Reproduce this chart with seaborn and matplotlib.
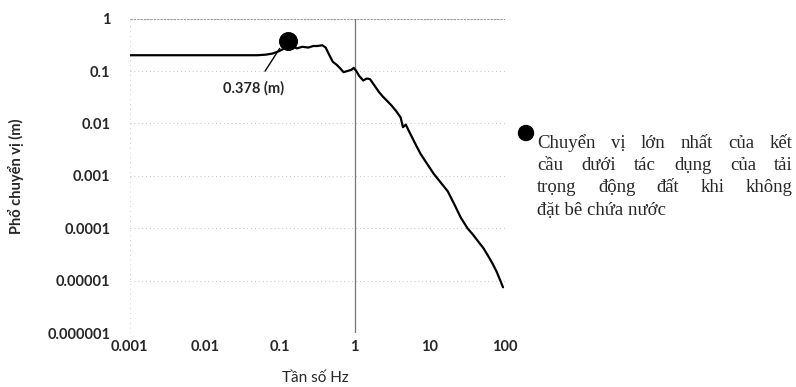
import matplotlib
matplotlib.use("Agg")
import matplotlib.pyplot as plt
import pandas as pd
import seaborn as sns

# Pho chuyen vi - du lieu doc tu hinh
freq_hz = [0.001, 0.003, 0.01, 0.03, 0.05, 0.065, 0.08, 0.095, 0.11, 0.128,
           0.15, 0.17, 0.2, 0.24, 0.28, 0.32, 0.37, 0.41, 0.46, 0.51,
           0.58, 0.65, 0.71, 0.8, 0.9, 0.97, 1.05, 1.15, 1.3, 1.45,
           1.6, 1.8, 2.1, 2.4, 2.7, 3.1, 3.6, 4.1, 4.4, 4.8,
           5.2, 5.8, 6.6, 7.6, 9.0, 11.3, 14.0, 17.4, 21.0, 26.0,
           32.0, 38.0, 44.0, 52.0, 60.0, 68.0, 78.0, 89.0, 95.0]
displacement_m = [0.2, 0.2, 0.2, 0.2, 0.2, 0.205, 0.215, 0.235, 0.26, 0.3,
                  0.29, 0.27, 0.29, 0.28, 0.3, 0.3, 0.31, 0.28, 0.2, 0.15,
                  0.13, 0.11, 0.095, 0.1, 0.105, 0.115, 0.1, 0.08, 0.066, 0.072,
                  0.07, 0.055, 0.04, 0.032, 0.027, 0.022, 0.017, 0.013, 0.0085, 0.0095,
                  0.0075, 0.0055, 0.0038, 0.0026, 0.0018, 0.0011, 0.00075, 0.00051, 0.0003, 0.00016,
                  0.0001, 0.000075, 0.000057, 0.000042, 0.00003, 0.000022, 0.000015, 0.0000095, 0.0000075]

peak_freq = [0.128]
peak_disp = [0.378]
peak_label = "0.378 (m)"

x_ticks = [0.001, 0.01, 0.1, 1, 10, 100]
x_tick_labels = ["0.001", "0.01", "0.1", "1", "10", "100"]
y_ticks = [1e-6, 1e-5, 1e-4, 1e-3, 1e-2, 1e-1, 1]
y_tick_labels = ["0.000001", "0.00001", "0.0001", "0.001", "0.01", "0.1", "1"]

legend_lines = ["Chuyển vị lớn nhất của kết",
                "cầu dưới tác dụng của tải",
                "trọng động đất khi không",
                "đặt bê chứa nước"]

sns.set_style("white")
plt.rcParams["font.family"] = ["Lato", "DejaVu Sans"]

spectrum = pd.DataFrame({"freq": freq_hz, "disp": displacement_m})

fig = plt.figure(figsize=(7.96, 3.87), dpi=100)
ax = fig.add_axes([0.163, 0.139, 0.471, 0.813])

sns.lineplot(data=spectrum, x="freq", y="disp", color="black", linewidth=1.6, ax=ax)
sns.scatterplot(x=peak_freq, y=peak_disp, s=160, color="black", edgecolor="black", zorder=5, ax=ax)

ax.set_xscale("log")
ax.set_yscale("log")
ax.set_xlim(0.001, 100)
ax.set_ylim(1e-6, 1)
ax.set_xticks(x_ticks)
ax.set_xticklabels(x_tick_labels)
ax.set_yticks(y_ticks)
ax.set_yticklabels(y_tick_labels)
ax.minorticks_off()
ax.tick_params(axis="both", length=0, labelsize=10.5)
ax.tick_params(axis="y", pad=14)
ax.tick_params(axis="x", pad=5)
for lbl in ax.get_xticklabels() + ax.get_yticklabels():
    lbl.set_fontweight("bold")

for sp in ax.spines.values():
    sp.set_visible(False)
for yv in y_ticks:
    ax.axhline(yv, color="#c4c4c4", linewidth=0.7, linestyle=(0, (1, 3)), zorder=0)
ax.axhline(1, color="#999999", linewidth=0.8, linestyle=(0, (2, 1)), zorder=0)
ax.axvline(0.001, color="#d0d0d0", linewidth=0.7, linestyle=(0, (1, 4)), zorder=0)
ax.axvline(1, color="#777777", linewidth=0.9, zorder=0)

ax.set_xlabel("Tần số Hz", fontsize=11)
ax.xaxis.set_label_coords(0.495, -0.12)
ax.set_ylabel("Phổ chuyển vị (m)", fontsize=10.5, fontweight="bold")
ax.yaxis.set_label_coords(-0.283, 0.5)

ax.annotate(peak_label, xy=(0.1, 0.27), xytext=(0.045, 0.046),
            ha="center", va="center", fontsize=10.5, fontweight="bold",
            arrowprops=dict(arrowstyle="-", color="black", lw=1.0, shrinkA=6, shrinkB=0))

# chu thich ben phai (can deu hai ben)
fig.canvas.draw()
renderer = fig.canvas.get_renderer()
x_left, x_right = 537, 793
line_y = [143, 166, 188, 210]
serif = ["Liberation Serif", "DejaVu Serif"]
fsize = 13.5
for i, (line, yy) in enumerate(zip(legend_lines, line_y)):
    y_fig = 1 - yy / 387
    words = line.split(" ")
    if i == len(legend_lines) - 1:
        fig.text(x_left / 796, y_fig, line, fontsize=fsize, family=serif, va="center", ha="left")
        continue
    widths = []
    for w in words:
        t = fig.text(0, 0, w, fontsize=fsize, family=serif)
        widths.append(t.get_window_extent(renderer).width)
        t.remove()
    gap = (x_right - x_left - sum(widths)) / (len(words) - 1)
    xx = x_left
    for w, wd in zip(words, widths):
        fig.text(xx / 796, y_fig, w, fontsize=fsize, family=serif, va="center", ha="left")
        xx += wd + gap

dot = plt.Circle((5.26, 3.87 - 1.33), 0.075, transform=fig.dpi_scale_trans, color="black")
fig.add_artist(dot)

fig.savefig("out.png", dpi=100)
